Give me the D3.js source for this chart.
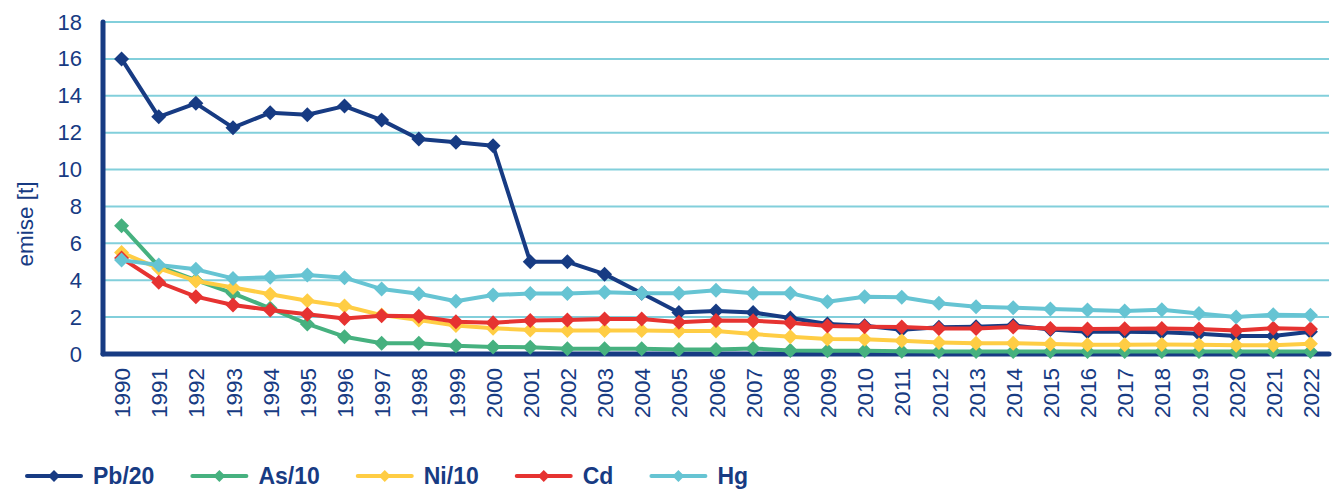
<!DOCTYPE html>
<html>
<head>
<meta charset="utf-8">
<script src="https://cdn.jsdelivr.net/npm/d3@7"></script>
<style>
  html, body { margin: 0; padding: 0; background: #fff; }
  svg { display: block; font-family: "Liberation Sans", Arial, sans-serif; }
</style>
</head>
<body>
<svg id="chart" width="1336" height="490"></svg>
<script>
const years = ["1990","1991","1992","1993","1994","1995","1996","1997","1998","1999","2000","2001","2002","2003","2004","2005","2006","2007","2008","2009","2010","2011","2012","2013","2014","2015","2016","2017","2018","2019","2020","2021","2022"];
const pb20 = [16.0,12.86,13.59,12.27,13.08,12.97,13.44,12.68,11.66,11.48,11.29,5.0,5.0,4.33,3.29,2.25,2.33,2.25,1.95,1.63,1.53,1.32,1.45,1.48,1.55,1.33,1.2,1.2,1.18,1.1,0.98,0.98,1.21];
const as10 = [6.95,4.75,4.0,3.29,2.48,1.63,0.94,0.58,0.58,0.45,0.38,0.37,0.28,0.28,0.28,0.24,0.24,0.3,0.19,0.18,0.17,0.15,0.13,0.13,0.13,0.13,0.13,0.13,0.13,0.13,0.13,0.13,0.13];
const ni10 = [5.5,4.64,3.96,3.61,3.24,2.89,2.6,2.11,1.84,1.55,1.39,1.3,1.28,1.28,1.28,1.25,1.25,1.08,0.94,0.81,0.8,0.72,0.63,0.58,0.58,0.54,0.5,0.5,0.52,0.5,0.47,0.48,0.56];
const cd = [5.2,3.89,3.11,2.66,2.38,2.15,1.93,2.08,2.04,1.75,1.7,1.81,1.85,1.9,1.9,1.72,1.82,1.8,1.7,1.52,1.48,1.46,1.38,1.38,1.46,1.38,1.36,1.37,1.38,1.36,1.27,1.4,1.35];
const hg = [5.09,4.82,4.59,4.1,4.16,4.28,4.14,3.52,3.27,2.86,3.2,3.28,3.28,3.35,3.3,3.3,3.45,3.29,3.3,2.83,3.1,3.08,2.75,2.56,2.51,2.44,2.38,2.33,2.4,2.2,2.0,2.13,2.1];
const seriesNames = ["Pb/20","As/10","Ni/10","Cd","Hg"];
const seriesValues = [pb20, as10, ni10, cd, hg];
const seriesColors = ["#173B83","#46B17F","#FFCD44","#E63331","#66C4D3"];
const yTicks = [0,2,4,6,8,10,12,14,16,18];
const yTitle = "emise [t]";

(function () {
const navy = "#173B83";
const svg = d3.select("#chart");
const pLeft = 103, pRight = 1329, pTop = 22, pBottom = 354;

const x = d3.scalePoint().domain(years).range([pLeft, pRight]).padding(0.5);
const y = d3.scaleLinear().domain([0, 18]).range([pBottom, pTop]);

// gridlines
svg.append("g").selectAll("line").data(yTicks.filter(d => d > 0)).join("line")
  .attr("x1", pLeft).attr("x2", pRight)
  .attr("y1", d => y(d)).attr("y2", d => y(d))
  .attr("stroke", "#82CFDB").attr("stroke-width", 2);

// y axis labels
const yAxis = svg.append("g").attr("transform", `translate(${pLeft},0)`)
  .call(d3.axisLeft(y).tickValues(yTicks).tickSize(0).tickPadding(21));
yAxis.select(".domain").remove();
yAxis.selectAll("text").attr("fill", navy).style("font-size", "22px")
  .style("font-family", "'Liberation Sans', Arial, sans-serif");

// x axis labels
const xAxis = svg.append("g").attr("transform", `translate(0,${pBottom})`)
  .call(d3.axisBottom(x).tickSize(0));
xAxis.select(".domain").remove();
xAxis.selectAll("text")
  .attr("transform", "rotate(-90)")
  .attr("x", -14).attr("y", 0).attr("dy", "0.36em")
  .attr("text-anchor", "end")
  .attr("fill", navy).style("font-size", "22.5px")
  .style("font-family", "'Liberation Sans', Arial, sans-serif");

// y title
svg.append("text")
  .attr("transform", `translate(25,224) rotate(-90)`)
  .attr("text-anchor", "middle").attr("dy", "0.35em")
  .attr("fill", navy).style("font-size", "22.5px")
  .text(yTitle);

// axis lines
svg.append("line").attr("x1", pLeft).attr("x2", pLeft).attr("y1", pTop).attr("y2", pBottom)
  .attr("stroke", navy).attr("stroke-width", 5).attr("stroke-linecap", "round");
svg.append("line").attr("x1", pLeft).attr("x2", pRight).attr("y1", pBottom).attr("y2", pBottom)
  .attr("stroke", navy).attr("stroke-width", 5).attr("stroke-linecap", "round");

// series
const diamond = (s) => `M0,${-s}L${s},0L0,${s}L${-s},0Z`;
const line = d3.line().x((d, i) => x(years[i])).y(d => y(d));
seriesValues.forEach((vals, k) => {
  const g = svg.append("g");
  g.append("path").datum(vals).attr("d", line)
    .attr("fill", "none").attr("stroke", seriesColors[k])
    .attr("stroke-width", 4).attr("stroke-linejoin", "round");
  g.selectAll("path.m").data(vals).join("path").attr("class", "m")
    .attr("transform", (d, i) => `translate(${x(years[i])},${y(d)})`)
    .attr("d", diamond(7.5)).attr("fill", seriesColors[k]);
});

// legend
const legend = svg.append("g").attr("transform", "translate(27,476)");
let lx = 0;
seriesNames.forEach((name, k) => {
  const g = legend.append("g").attr("transform", `translate(${lx},0)`);
  g.append("line").attr("x1", 0).attr("x2", 54).attr("y1", 0).attr("y2", 0)
    .attr("stroke", seriesColors[k]).attr("stroke-width", 4).attr("stroke-linecap", "round");
  g.append("path").attr("transform", "translate(27,0)").attr("d", diamond(6)).attr("fill", seriesColors[k]);
  const t = g.append("text").attr("x", 66).attr("dy", "0.36em")
    .attr("fill", navy).style("font-size", "23px").style("font-weight", "bold")
    .text(name);
  lx += 66 + t.node().getComputedTextLength() + 38;
});
})();
</script>
</body>
</html>
